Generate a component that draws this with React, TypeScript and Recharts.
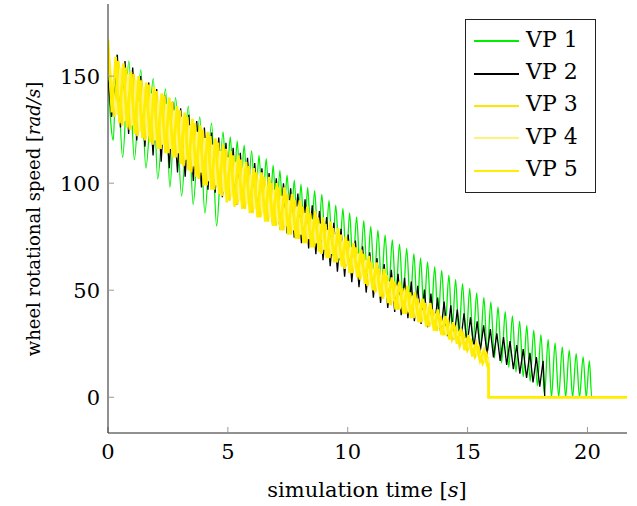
import React from "react";
import { LineChart, Line, XAxis, YAxis, Legend } from "recharts";

type Pt = [number, number];

const FONT = '"DejaVu Serif", "Liberation Serif", "Noto Serif", serif';

const timeDomain: [number, number] = [0, 21.65];
const speedDomain: [number, number] = [-16.7, 183.7];
const timeTicks = [0, 5, 10, 15, 20];
const speedTicks = [0, 50, 100, 150];

// turning points: [time s, speed rad/s]
const vp1: Pt[] = [
  [0, 150], [0.22, 120], [0.36, 160], [0.61, 112], [0.87, 157], [1.1, 111], [1.37, 153], [1.58, 107],
  [1.89, 149], [2.07, 102], [2.4, 144], [2.58, 98], [2.82, 140], [3.07, 94], [3.35, 136], [3.55, 90],
  [3.83, 131], [4.04, 86], [4.32, 128], [4.53, 80], [4.8, 124], [4.95, 98], [5.1, 121.6], [5.25, 96],
  [5.39, 119.8], [5.53, 94], [5.68, 117.8], [5.83, 91.5], [5.99, 115.1], [6.15, 89], [6.3, 113], [6.45, 87],
  [6.6, 111.5], [6.75, 85], [6.89, 108.4], [7.03, 82], [7.17, 106], [7.32, 80], [7.47, 103.7], [7.62, 77.5],
  [7.77, 101.4], [7.91, 75.5], [8.05, 99.5], [8.19, 74], [8.33, 98], [8.47, 72], [8.62, 96.5], [8.77, 70.5],
  [8.92, 94.7], [9.07, 68], [9.22, 92], [9.36, 66], [9.5, 89.7], [9.65, 64], [9.8, 88.2], [9.94, 62],
  [10.08, 86.1], [10.22, 60], [10.37, 84.3], [10.52, 58], [10.67, 82.5], [10.81, 56], [10.96, 79.8], [11.11, 54],
  [11.26, 78], [11.41, 52], [11.56, 75.7], [11.71, 49.5], [11.86, 73.5], [12.01, 47.5], [12.16, 71.5], [12.31, 45.5],
  [12.46, 69.5], [12.61, 43], [12.76, 67.1], [12.9, 41], [13.04, 65.1], [13.18, 39], [13.33, 63.2], [13.48, 37],
  [13.63, 61], [13.77, 35], [13.92, 59.3], [14.07, 33], [14.22, 57], [14.36, 31], [14.5, 55], [14.64, 29],
  [14.79, 53.1], [14.94, 27], [15.09, 50.8], [15.23, 24.7], [15.38, 48.7], [15.53, 22.6], [15.68, 46.6], [15.82, 20.5],
  [15.97, 44.5], [16.12, 18.3], [16.27, 42.2], [16.42, 16], [16.57, 40], [16.72, 14], [16.87, 38], [17.02, 11.8],
  [17.17, 35.6], [17.32, 9.6], [17.47, 33.6], [17.61, 7.4], [17.76, 31.3], [17.91, 5.3], [18.06, 29.3], [18.21, 1],
  [18.36, 27], [18.5, 0], [18.65, 25.4], [18.8, 0], [18.95, 23.5], [19.09, 0], [19.24, 22], [19.38, 0],
  [19.53, 20.4], [19.67, 0], [19.82, 18.9], [19.95, 0], [20.08, 17], [20.18, 0], [21.65, 0],
];

const vp2: Pt[] = [
  [0, 148], [0.15, 131], [0.39, 160], [0.52, 126], [0.71, 157], [0.86, 123], [1.03, 154], [1.2, 120],
  [1.36, 150], [1.54, 117], [1.7, 147], [1.88, 113], [2.03, 144], [2.22, 110], [2.37, 141], [2.56, 107],
  [2.7, 138], [2.9, 105], [3.03, 135], [3.22, 103], [3.37, 132], [3.56, 101], [3.7, 129], [3.9, 98],
  [4.02, 126], [4.17, 97], [4.32, 123.6], [4.47, 95.5], [4.62, 121.3], [4.77, 93.5], [4.92, 118.9], [5.07, 92],
  [5.22, 116.5], [5.37, 90], [5.52, 114.2], [5.67, 88.5], [5.82, 111.8], [5.97, 86.5], [6.12, 109.4], [6.27, 84.5],
  [6.42, 107], [6.57, 82.5], [6.72, 104.7], [6.87, 80.5], [7.02, 102.3], [7.17, 78.5], [7.32, 100], [7.47, 76.5],
  [7.62, 97.6], [7.77, 74.5], [7.92, 95.2], [8.07, 72], [8.22, 92.5], [8.37, 69.5], [8.52, 89.7], [8.67, 66.8],
  [8.82, 87], [8.97, 64], [9.12, 84.2], [9.27, 61.2], [9.42, 81.5], [9.57, 58.7], [9.72, 78.7], [9.87, 56.3],
  [10.02, 76], [10.17, 53.8], [10.32, 73.2], [10.47, 51.4], [10.62, 70.5], [10.77, 48.9], [10.92, 67.7], [11.07, 46.5],
  [11.22, 65], [11.37, 44], [11.52, 62.2], [11.67, 41.7], [11.82, 59.5], [11.96, 39.8], [12.1, 57.7], [12.23, 38.3],
  [12.37, 55.8], [12.51, 36.9], [12.65, 54], [12.78, 35.5], [12.92, 52.1], [13.06, 34.2], [13.2, 50.3], [13.33, 32.7],
  [13.47, 48.4], [13.61, 31.3], [13.75, 46.6], [13.88, 29.9], [14.02, 44.7], [14.16, 28.5], [14.3, 42.9], [14.43, 27.1],
  [14.57, 41], [14.71, 25.7], [14.85, 39.2], [14.98, 24.2], [15.12, 37.3], [15.26, 22.9], [15.4, 35.5], [15.53, 21.5],
  [15.67, 33.6], [15.81, 20.1], [15.95, 31.8], [16.08, 18.6], [16.22, 29.9], [16.36, 17], [16.5, 28.1], [16.63, 15.1],
  [16.77, 26.2], [16.91, 13.1], [17.05, 24.4], [17.18, 11], [17.32, 22.5], [17.46, 9], [17.6, 20.7], [17.73, 6.9],
  [17.87, 18.8], [18.01, 4.9], [18.15, 17], [18.22, 0], [21.65, 0],
];

const vp3: Pt[] = [
  [0, 162], [0.27, 131], [0.43, 157], [0.59, 127], [0.75, 154], [0.91, 125], [1.07, 151], [1.23, 122],
  [1.39, 148], [1.55, 120], [1.71, 146], [1.87, 118], [2.03, 143], [2.19, 116], [2.35, 141], [2.51, 114],
  [2.67, 138], [2.83, 112], [2.99, 134], [3.15, 108], [3.31, 131], [3.47, 105], [3.63, 128], [3.79, 102],
  [3.95, 125], [4.11, 99], [4.27, 122], [4.43, 97], [4.59, 119], [4.75, 94], [4.91, 116], [5.07, 92],
  [5.23, 113], [5.39, 90], [5.55, 111], [5.71, 88], [5.87, 108], [6.03, 86], [6.19, 105], [6.35, 84],
  [6.51, 103], [6.67, 82], [6.83, 100], [6.99, 80], [7.15, 98], [7.31, 78], [7.47, 95], [7.63, 76],
  [7.79, 92], [7.95, 74], [8.11, 89], [8.27, 72], [8.43, 86], [8.59, 70], [8.75, 84], [8.91, 67],
  [9.07, 81], [9.23, 65], [9.39, 79], [9.55, 63], [9.71, 76], [9.87, 60], [10.03, 73], [10.19, 58],
  [10.35, 70], [10.51, 55], [10.67, 67], [10.83, 52], [10.99, 63], [11.15, 49], [11.31, 60], [11.47, 46],
  [11.63, 57], [11.79, 43], [11.95, 54], [12.11, 41], [12.27, 51], [12.43, 39], [12.59, 49], [12.75, 37],
  [12.91, 46], [13.07, 35], [13.23, 44], [13.39, 33], [13.55, 41], [13.71, 31], [13.87, 38], [14.03, 29],
  [14.19, 35], [14.35, 27], [14.51, 32], [14.67, 24], [14.83, 29], [14.99, 22], [15.15, 26], [15.31, 19],
  [15.47, 23], [15.63, 16], [15.79, 20], [15.87, 15], [15.88, 0], [21.65, 0],
];

const vp4: Pt[] = [
  [0, 156], [0.37, 132], [0.53, 154], [0.69, 129], [0.85, 151], [1.01, 127], [1.17, 148], [1.33, 124],
  [1.49, 145], [1.65, 122], [1.81, 142], [1.97, 120], [2.13, 139], [2.29, 118], [2.45, 137], [2.61, 116],
  [2.77, 134], [2.93, 114], [3.09, 131], [3.25, 111], [3.41, 127], [3.57, 108], [3.73, 124], [3.89, 105],
  [4.05, 121], [4.21, 101], [4.37, 118], [4.53, 99], [4.69, 115], [4.85, 96], [5.01, 112], [5.17, 94],
  [5.33, 110], [5.49, 92], [5.65, 107], [5.81, 90], [5.97, 104], [6.13, 88], [6.29, 102], [6.45, 86],
  [6.61, 99], [6.77, 84], [6.93, 97], [7.09, 82], [7.25, 94], [7.41, 80], [7.57, 92], [7.73, 78],
  [7.89, 89], [8.05, 76], [8.21, 86], [8.37, 74], [8.53, 83], [8.69, 72], [8.85, 81], [9.01, 69],
  [9.17, 78], [9.33, 67], [9.49, 76], [9.65, 65], [9.81, 73], [9.97, 62], [10.13, 70], [10.29, 60],
  [10.45, 67], [10.61, 57], [10.77, 64], [10.93, 54], [11.09, 60], [11.25, 51], [11.41, 57], [11.57, 48],
  [11.73, 54], [11.89, 45], [12.05, 51], [12.21, 43], [12.37, 49], [12.53, 41], [12.69, 46], [12.85, 39],
  [13.01, 43], [13.17, 37], [13.33, 41], [13.49, 35], [13.65, 38], [13.81, 33], [13.97, 35], [14.13, 30],
  [14.29, 33], [14.45, 28], [14.61, 30], [14.77, 26], [14.93, 27], [15.09, 23], [15.25, 24], [15.41, 20],
  [15.57, 20], [15.73, 17], [15.86, 18], [15.88, 0], [21.65, 0],
];

const vp5: Pt[] = [
  [0, 167], [0.16, 133], [0.32, 159], [0.48, 128], [0.64, 156], [0.8, 126], [0.96, 152], [1.12, 123],
  [1.28, 150], [1.44, 121], [1.6, 147], [1.76, 119], [1.92, 145], [2.08, 116], [2.24, 142], [2.4, 114],
  [2.56, 140], [2.72, 112], [2.88, 136], [3.04, 109], [3.2, 133], [3.36, 106], [3.52, 130], [3.68, 103],
  [3.84, 127], [4.0, 99], [4.16, 124], [4.32, 97], [4.48, 121], [4.64, 95], [4.8, 118], [4.96, 91],
  [5.12, 115], [5.28, 89], [5.44, 113], [5.6, 88], [5.76, 110], [5.92, 86], [6.08, 107], [6.24, 84],
  [6.4, 105], [6.56, 82], [6.72, 103], [6.88, 80], [7.04, 100], [7.2, 78], [7.36, 98], [7.52, 76],
  [7.68, 95], [7.84, 74], [8.0, 92], [8.16, 72], [8.32, 89], [8.48, 70], [8.64, 87], [8.8, 68],
  [8.96, 84], [9.12, 65], [9.28, 82], [9.44, 63], [9.6, 79], [9.76, 61], [9.92, 75], [10.08, 58],
  [10.24, 72], [10.4, 56], [10.56, 69], [10.72, 53], [10.88, 66], [11.04, 50], [11.2, 63], [11.36, 47],
  [11.52, 60], [11.68, 44], [11.84, 56], [12.0, 41], [12.16, 54], [12.32, 39], [12.48, 52], [12.64, 37],
  [12.8, 49], [12.96, 35], [13.12, 46], [13.28, 33], [13.44, 44], [13.6, 31], [13.76, 41], [13.92, 29],
  [14.08, 38], [14.24, 27], [14.4, 35], [14.56, 25], [14.72, 32], [14.88, 22], [15.04, 29], [15.2, 19],
  [15.36, 25], [15.52, 17], [15.68, 22], [15.84, 14], [15.87, 16], [15.88, 0], [21.65, 0],
];

const series = [
  { name: "VP 1", points: vp1, color: "#00ee00", width: 1.3, curve: "monotone" },
  { name: "VP 2", points: vp2, color: "#000000", width: 1.3, curve: "linear" },
  { name: "VP 3", points: vp3, color: "#ffe600", width: 2.6, curve: "linear" },
  { name: "VP 4", points: vp4, color: "#fff27a", width: 2.6, curve: "linear" },
  { name: "VP 5", points: vp5, color: "#ffee00", width: 2.6, curve: "linear" },
];

const tickFont = { fontSize: 21, fill: "#000", fontFamily: FONT };

function LegendBox() {
  return (
    <div
      style={{
        width: 131,
        height: 174,
        boxSizing: "border-box",
        border: "1px solid #222",
        background: "#fff",
        paddingTop: 5,
        fontFamily: FONT,
        fontSize: 22,
        color: "#000",
      }}
    >
      {series.map((s) => (
        <div key={s.name} style={{ height: 32.4, display: "flex", alignItems: "center" }}>
          <div style={{ width: 45, height: 2, marginLeft: 8, background: s.color }} />
          <span style={{ marginLeft: 7, marginTop: -4, whiteSpace: "pre" }}>{s.name}</span>
        </div>
      ))}
    </div>
  );
}

export default function App() {
  return (
    <div style={{ position: "absolute", left: 0, top: 0, width: 637, height: 506, background: "#fff", fontFamily: FONT }}>
      <LineChart width={637} height={506} margin={{ top: 4, right: 10, bottom: 0, left: 0 }}>
        <XAxis
          xAxisId="bottom"
          dataKey="t"
          type="number"
          domain={timeDomain}
          ticks={timeTicks}
          interval={0}
          allowDataOverflow
          height={73}
          tick={tickFont}
          tickSize={-6}
          tickMargin={17}
          axisLine={{ stroke: "#222" }}
          tickLine={{ stroke: "#999" }}
        />
        <XAxis
          xAxisId="top"
          orientation="top"
          dataKey="t"
          type="number"
          domain={timeDomain}
          ticks={timeTicks}
          interval={0}
          allowDataOverflow
          height={0}
          tick={false}
          tickSize={-6}
          axisLine={{ stroke: "#222" }}
          tickLine={{ stroke: "#999" }}
        />
        <YAxis
          yAxisId="left"
          type="number"
          domain={speedDomain}
          ticks={speedTicks}
          interval={0}
          allowDataOverflow
          width={108}
          tick={tickFont}
          tickSize={-6}
          tickMargin={14}
          axisLine={{ stroke: "#222" }}
          tickLine={{ stroke: "#999" }}
        />
        <YAxis
          yAxisId="right"
          orientation="right"
          type="number"
          domain={speedDomain}
          ticks={speedTicks}
          interval={0}
          allowDataOverflow
          width={0}
          tick={false}
          tickSize={-6}
          axisLine={{ stroke: "#222" }}
          tickLine={{ stroke: "#999" }}
        />
        {series.map((s) => (
          <Line
            key={s.name}
            name={s.name}
            xAxisId="bottom"
            yAxisId="left"
            data={s.points.map(([t, v]) => ({ t, v }))}
            dataKey="v"
            type={s.curve as "monotone" | "linear"}
            stroke={s.color}
            strokeWidth={s.width}
            dot={false}
            activeDot={false}
            isAnimationActive={false}
          />
        ))}
        <Legend
          layout="vertical"
          align="center"
          verticalAlign="middle"
          wrapperStyle={{ left: 465, top: 19, width: 131, height: 174 }}
          content={() => <LegendBox />}
        />
      </LineChart>
      <div
        style={{
          position: "absolute",
          left: 367,
          top: 490,
          transform: "translate(-50%, -50%)",
          fontSize: 21,
          whiteSpace: "nowrap",
          color: "#000",
        }}
      >
        simulation time [<i>s</i>]
      </div>
      <div
        style={{
          position: "absolute",
          left: 33,
          top: 219,
          transform: "translate(-50%, -50%) rotate(-90deg)",
          fontSize: 18,
          whiteSpace: "nowrap",
          color: "#000",
        }}
      >
        wheel rotational speed [<i>rad/s</i>]
      </div>
    </div>
  );
}
